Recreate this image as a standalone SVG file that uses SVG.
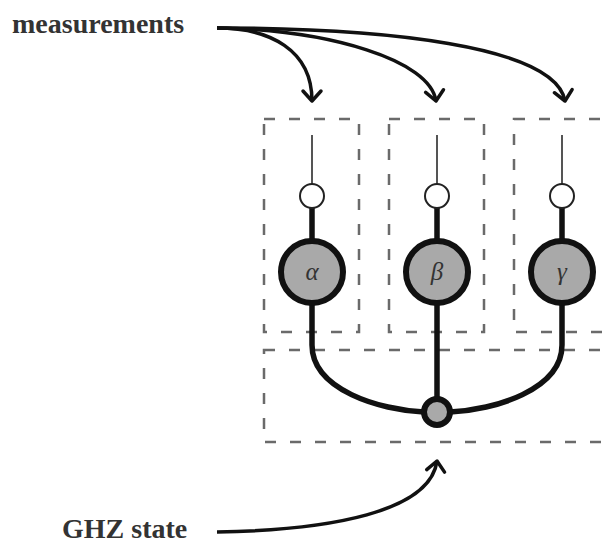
<svg xmlns="http://www.w3.org/2000/svg" width="603" height="543" viewBox="0 0 603 543">
<style>
.lbl{font-family:"Liberation Serif","Times New Roman",serif;font-weight:bold;font-size:28px;fill:#333}
.greek{font-family:"Liberation Serif","Times New Roman",serif;font-style:italic;font-size:25px;fill:#333;text-anchor:middle}
.box{fill:none;stroke:#6a6a6a;stroke-width:2.5;stroke-dasharray:11 14}
.arrow{fill:none;stroke:#111;stroke-width:3.5;marker-end:url(#head)}
.thin{stroke:#555;stroke-width:2}
.thick{stroke:#111;stroke-width:5.5;fill:none}
.small{fill:#fff;stroke:#222;stroke-width:2}
.big{fill:#a9a9a9;stroke:#111;stroke-width:6}
</style>
<defs>
<marker id="head" markerUnits="userSpaceOnUse" markerWidth="30" markerHeight="30" refX="0" refY="0" viewBox="-15 -15 30 30" orient="auto" overflow="visible">
<path d="M-10,-9 L0,0 L-10,9" fill="none" stroke="#111" stroke-width="3.5" stroke-linecap="round" stroke-linejoin="round"/>
</marker>
</defs>
<rect width="603" height="543" fill="#fff"/>
<g id="boxes">
<rect class="box" x="264" y="119" width="95" height="213"/>
<rect class="box" x="389" y="119" width="95" height="213"/>
<rect class="box" x="514" y="119" width="100" height="213"/>
<rect class="box" x="264" y="350" width="360" height="92"/>
</g>
<g id="connectors">
<path class="arrow" d="M217,28 C270,28 312,50 312,101"/>
<path class="arrow" d="M217,28 C330,30 430,60 436,101"/>
<path class="arrow" d="M217,28 C380,28 555,45 565,101"/>
<path class="arrow" d="M217,532 C330,530 430,512 437,461"/>
<line class="thin" x1="312" y1="135" x2="312" y2="184"/>
<line class="thin" x1="437" y1="135" x2="437" y2="184"/>
<line class="thin" x1="562" y1="135" x2="562" y2="184"/>
<line class="thick" x1="312" y1="208" x2="312" y2="241"/>
<line class="thick" x1="437" y1="208" x2="437" y2="241"/>
<line class="thick" x1="562" y1="208" x2="562" y2="241"/>
<path class="thick" d="M312,303 L312,345 C312,390 380,410 424,412"/>
<path class="thick" d="M562,303 L562,345 C562,390 494,410 450,412"/>
<line class="thick" x1="437" y1="303" x2="437" y2="400"/>
</g>
<g id="measurements"><text class="lbl" x="12" y="33">measurements</text></g>
<g id="ghz-label"><text class="lbl" x="62" y="538">GHZ state</text></g>
<g id="node-alpha">
<circle class="small" cx="312" cy="196" r="12"/>
<circle class="big" cx="312" cy="272" r="31"/>
<text class="greek" x="312" y="280">α</text>
</g>
<g id="node-beta">
<circle class="small" cx="437" cy="196" r="12"/>
<circle class="big" cx="437" cy="272" r="31"/>
<text class="greek" x="437" y="280">β</text>
</g>
<g id="node-gamma">
<circle class="small" cx="562" cy="196" r="12"/>
<circle class="big" cx="562" cy="272" r="31"/>
<text class="greek" x="562" y="280">γ</text>
</g>
<g id="ghz-node">
<circle class="big" cx="437" cy="412" r="13" stroke-width="5"/>
</g>
</svg>
